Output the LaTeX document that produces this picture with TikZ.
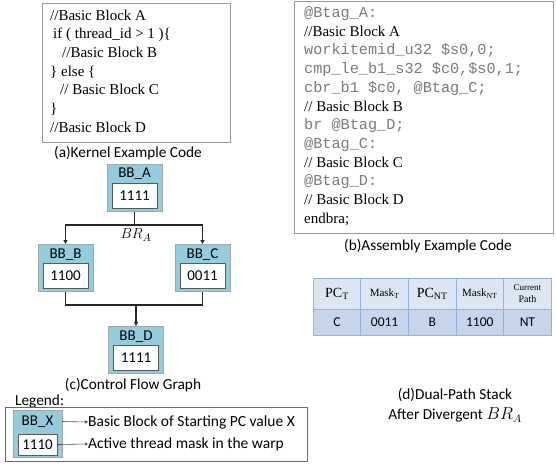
\documentclass[tikz,border=0pt]{standalone}
\usepackage{fontspec}
\setmainfont{Liberation Serif}
\newfontfamily\calfont{Carlito}
\newfontfamily\courfont{Liberation Mono}
\usetikzlibrary{arrows.meta}
\definecolor{bbfill}{HTML}{93CDDD}
\definecolor{bbline}{HTML}{A6A6A6}
\definecolor{inline}{HTML}{595959}
\definecolor{codegray}{HTML}{7A7A7A}
\definecolor{hdrfill}{HTML}{DCE6F2}
\definecolor{rowfill}{HTML}{C6D5EA}
\definecolor{tblline}{HTML}{95B3D7}
\definecolor{legline}{HTML}{41719C}
\tikzset{
  codebox/.style={draw=gray!80, line width=0.8pt},
  bbouter/.style={draw=bbline, fill=bbfill, line width=1pt, minimum width=55pt, minimum height=47pt, inner sep=0pt},
  bbinner/.style={draw=inline, fill=white, line width=0.8pt, minimum width=45pt, minimum height=25pt, inner sep=0pt, font=\calfont\fontsize{15}{17}\selectfont},
  bblabel/.style={inner sep=0pt, font=\calfont\fontsize{15}{17}\selectfont},
  tline/.style={anchor=base west, inner sep=0pt, font=\fontsize{15}{17}\selectfont},
  mline/.style={anchor=base west, inner sep=0pt, text=codegray, font=\courfont\fontsize{15.2}{17}\selectfont},
  caption/.style={inner sep=0pt, font=\calfont\fontsize{15.3}{17}\selectfont},
  legtext/.style={inner sep=0pt, anchor=west, font=\calfont\fontsize{15.5}{17}\selectfont},
  conn/.style={line width=1.2pt, black!85},
  arr/.style={conn, -{Triangle[length=4pt,width=4pt]}},
  larr/.style={line width=0.6pt, black!70, -{Triangle[length=3pt,width=3pt]}},
  hcell/.style={draw=tblline, fill=hdrfill, line width=0.8pt, minimum width=47.6pt, minimum height=31pt, inner sep=0pt},
  dcell/.style={draw=tblline, fill=rowfill, line width=0.8pt, minimum width=47.6pt, minimum height=26pt, inner sep=0pt, font=\calfont\fontsize{13.5}{15}\selectfont},
}
\begin{document}
\begin{tikzpicture}[x=1pt,y=-1pt]
\useasboundingbox (0,0) rectangle (556,464);
% (a) kernel code
\node[codebox, minimum width=188pt, minimum height=139pt, anchor=north west] (boxa) at (42,3) {};
\node[tline] (a1) at (50,20) {//Basic Block A};
\node[tline] (a2) at (53,38.7) {if ( thread\_id > 1 )\{};
\node[tline] (a3) at (62,57.4) {//Basic Block B};
\node[tline] (a4) at (50,76.1) {\} else \{};
\node[tline] (a5) at (60,94.8) {// Basic Block C};
\node[tline] (a6) at (50,113.5) {\}};
\node[tline] (a7) at (50,132.2) {//Basic Block D};
\node[caption] (capa) at (128,153) {(a)Kernel Example Code};
% (b) assembly code
\node[codebox, minimum width=259pt, minimum height=232pt, anchor=north west] (boxb) at (294,1) {};
\node[mline] (b1) at (304,17.5) {@Btag\_A:};
\node[tline] (b2) at (304,36.2) {//Basic Block A};
\node[mline] (b3) at (304,54.9) {workitemid\_u32 \$s0,0;};
\node[mline] (b4) at (304,73.6) {cmp\_le\_b1\_s32 \$c0,\$s0,1;};
\node[mline] (b5) at (304,92.3) {cbr\_b1 \$c0, @Btag\_C;};
\node[tline] (b6) at (304,111) {// Basic Block B};
\node[mline] (b7) at (304,129.7) {br @Btag\_D;};
\node[mline] (b8) at (304,148.4) {@Btag\_C:};
\node[tline] (b9) at (304,167.1) {// Basic Block C};
\node[mline] (b10) at (304,185.8) {@Btag\_D:};
\node[tline] (b11) at (304,204.5) {// Basic Block D};
\node[tline] (b12) at (304,223.2) {endbra;};
\node[caption] (capb) at (428,246) {(b)Assembly Example Code};
% (c) control flow graph
\node[bbouter] (A) at (134.5,187.5) {};
\node[bblabel] (Al) at (134.5,174) {BB\_A};
\node[bbinner] (Am) at (134.5,195.5) {1111};
\node[bbouter] (B) at (65.5,268) {};
\node[bblabel] (Bl) at (65.5,255) {BB\_B};
\node[bbinner] (Bm) at (65.5,276) {1100};
\node[bbouter] (C) at (202.5,268) {};
\node[bblabel] (Cl) at (202.5,255) {BB\_C};
\node[bbinner] (Cm) at (202.5,276) {0011};
\node[bbouter] (D) at (136,350) {};
\node[bblabel] (Dl) at (136,337) {BB\_D};
\node[bbinner] (Dm) at (136,358) {1111};
\coordinate (split) at (134.5,225);
\coordinate (merge) at (136,305);
\draw[conn] (A.south) -- (split);
\draw[arr] (split) -| (B.north);
\draw[arr] (split) -| (C.north);
\node[inner sep=0pt, font=\fontsize{15}{17}\selectfont] (bra) at (136,235) {$BR_A$};
\draw[conn] (B.south) |- (merge);
\draw[conn] (C.south) |- (merge);
\draw[arr] (merge) -- (D.north);
\node[caption] (capc) at (133,385) {(c)Control Flow Graph};
% legend
\node[caption, anchor=west] (legt) at (15,401) {Legend:};
\node[draw=legline, line width=1pt, minimum width=302pt, minimum height=54pt, anchor=north west, inner sep=0pt] (legbox) at (5,407) {};
\node[bbouter, minimum width=49pt, minimum height=47pt] (X) at (37.5,433.5) {};
\node[bblabel] (Xl) at (37.5,421.5) {BB\_X};
\node[bbinner, minimum width=39pt, minimum height=21pt] (Xm) at (37.5,444.5) {1110};
\node[legtext] (lt1) at (88,422) {Basic Block of Starting PC value X};
\node[legtext] (lt2) at (88,444) {Active thread mask in the warp};
\draw[larr] (X.east |- Xl) -- (lt1.west);
\draw[larr] (Xm.east) -- (lt2.west);
% (d) table
\node[hcell] (h1) at (337,293.5) {\fontsize{14}{16}\selectfont PC\textsubscript{T}};
\node[hcell] (h2) at (384.6,293.5) {\fontsize{11}{13}\selectfont Mask\textsubscript{T}};
\node[hcell] (h3) at (432.2,293.5) {\fontsize{14}{16}\selectfont PC\textsubscript{NT}};
\node[hcell] (h4) at (479.8,293.5) {\fontsize{11}{13}\selectfont Mask\textsubscript{NT}};
\node[hcell, align=center] (h5) at (527.4,293.5) {\fontsize{9}{11}\selectfont Current\\Path};
\node[dcell] (d1) at (337,322) {C};
\node[dcell] (d2) at (384.6,322) {0011};
\node[dcell] (d3) at (432.2,322) {B};
\node[dcell] (d4) at (479.8,322) {1100};
\node[dcell] (d5) at (527.4,322) {NT};
\node[caption] (capd1) at (455,395) {(d)Dual-Path Stack};
\node[caption] (capd2) at (455,415) {After Divergent {\fontsize{16}{17}\selectfont$BR_A$}};
\end{tikzpicture}
\end{document}
